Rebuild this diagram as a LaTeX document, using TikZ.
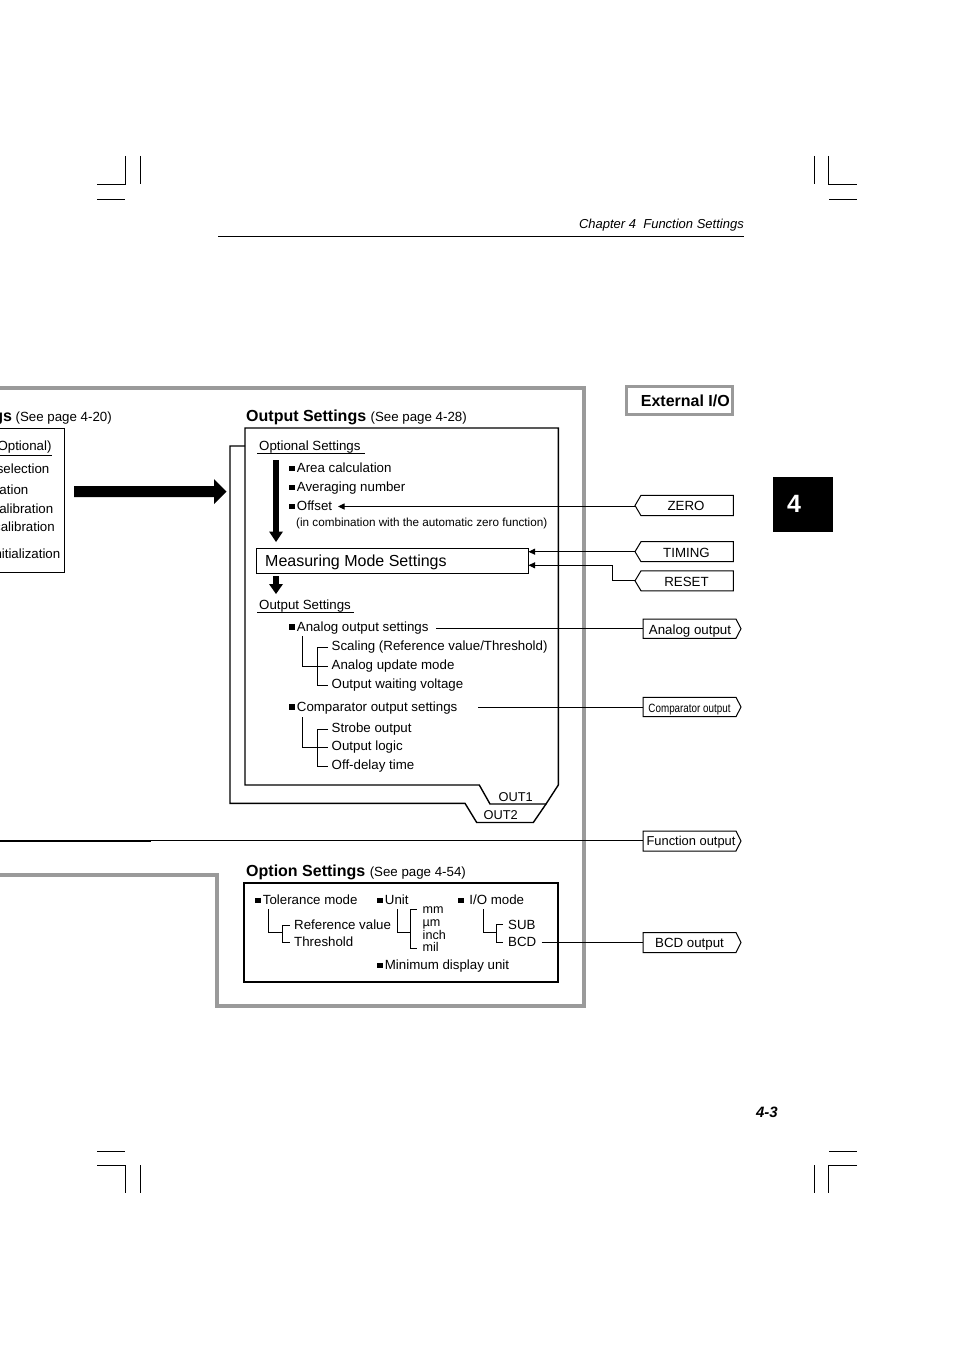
\documentclass[tikz,border=0pt]{standalone}
\usepackage{fontspec}
\usepackage{graphicx}
\setmainfont{Liberation Sans}
\usetikzlibrary{arrows.meta}
\definecolor{framegray}{HTML}{9A9A9A}
\newcommand\fsN{\normalfont\fontsize{13.3}{15}\selectfont}
\newcommand\fsS{\normalfont\fontsize{11.7}{13}\selectfont}
\newcommand\fsU{\normalfont\fontsize{12.6}{14}\selectfont}
\newcommand\fsB{\normalfont\fontsize{16}{18}\selectfont\bfseries}
\newcommand\sqb{\rule[1.2pt]{5.5pt}{5.5pt}\hspace{2.2pt}}
\begin{document}
\begin{tikzpicture}[x=1pt,y=-1pt,
  txt/.style={inner sep=0pt,anchor=base west,font=\fsN},
  txte/.style={inner sep=0pt,anchor=base east,font=\fsN},
  txtc/.style={inner sep=0pt,anchor=base,font=\fsN},
  box/.style={draw,line width=1.5pt,line join=miter},
  thinl/.style={line width=0.9pt},
  tree/.style={line width=0.9pt},
  tagl/.style={draw,line width=1pt,line join=miter},
  arr/.style={line width=0.9pt,-{Triangle[length=6.5pt,width=6pt]}},
  gframe/.style={draw=framegray,line width=3.5pt,line join=miter},
  crop/.style={line width=1pt}]
\useasboundingbox (0,0) rectangle (954,1351);
\clip (0,0) rectangle (954,1351);

% crop marks
\draw[crop] (125.5,156) -- (125.5,184.5) -- (97,184.5);
\draw[crop] (140.3,156) -- (140.3,184.5);
\draw[crop] (97,199.3) -- (124.7,199.3);
\draw[crop] (814.3,156) -- (814.3,184.5);
\draw[crop] (828.7,156) -- (828.7,184.5) -- (856.7,184.5);
\draw[crop] (829,199.3) -- (857,199.3);
\draw[crop] (97,1151.3) -- (124.7,1151.3);
\draw[crop] (97,1165) -- (125.7,1165) -- (125.7,1193);
\draw[crop] (140.3,1165) -- (140.3,1193);
\draw[crop] (829,1151.3) -- (857,1151.3);
\draw[crop] (857,1165) -- (828.7,1165) -- (828.7,1193);
\draw[crop] (814.3,1165) -- (814.3,1193);

% header
\node[txte,font=\normalfont\fontsize{13}{15}\selectfont\itshape] (hdr) at (744,228) {Chapter 4\ \ Function Settings};
\draw[line width=1pt] (218,236.5) -- (744,236.5);

% page number and tab
\node[txte,font=\normalfont\fontsize{15}{17}\selectfont\bfseries\itshape] (pnum) at (778,1117.5) {4-3};
\fill (772.7,476.7) rectangle (832.7,531.7);
\node[inner sep=0pt,text=white,font=\normalfont\fontsize{25}{28}\selectfont\bfseries] (tab) at (794,504) {4};

% gray frame
\draw[gframe] (-5,388) -- (584,388) -- (584,1006) -- (217,1006) -- (217,875) -- (-5,875);

% External I/O
\draw[draw=framegray,line width=3pt] (626.5,386.5) rectangle (732.8,414.2);
\node[txte,font=\fsB] (extio) at (730,406.5) {External I/O};

% left partial box
\node[txte] (lt) at (112,421) {{\fsB gs} (See page 4-20)};
\draw[box] (-5,428.3) -- (64.3,428.3) -- (64.3,572.7) -- (-5,572.7);
\node[txte] (l1) at (51.7,450.5) {Optional)};
\draw[thinl] (-5,455) -- (51.7,455);
\node[txte] (l2) at (49.5,473.2) {selection};
\node[txte] (l3) at (28.5,494) {ation};
\node[txte] (l4) at (53.5,513) {alibration};
\node[txte] (l5) at (55,531) {calibration};
\node[txte] (l6) at (60.5,558) {nitialization};

% big arrow
\fill (74,486) -- (214,486) -- (214,479) -- (226.5,491.5) -- (214,504) -- (214,497) -- (74,497) -- cycle;

% Output settings frames
\node[txt,font=\fsB] (ostitle) at (246,421) {Output Settings {\fsN(See page 4-28)}};
\draw[box,line width=1.4pt] (245,446) -- (230,446) -- (230,803.3) -- (465,803.3) -- (476.7,822.5) -- (533.3,822.5) -- (546,804);
\draw[box,line width=1.4pt] (245,428) -- (558.3,428) -- (558.3,785) -- (546,804) -- (490,804) -- (479.3,785) -- (245,785) -- cycle;
\node[txt,font=\normalfont\fontsize{12.8}{14}\selectfont] (out1) at (498.5,801.3) {OUT1};
\node[txt,font=\normalfont\fontsize{12.8}{14}\selectfont] (out2) at (483.5,819) {OUT2};

\node[txt] (opt) at (259,450.5) {Optional Settings};
\draw[thinl] (257,453.7) -- (364.7,453.7);
\fill (273,460) rectangle (279,532);
\fill (269,531.5) -- (283,531.5) -- (276,542) -- cycle;
\node[txt] (area) at (289,472.5) {\sqb Area calculation};
\node[txt] (avg) at (289,491.5) {\sqb Averaging number};
\node[txt] (offset) at (289,510.3) {\sqb Offset};
\node[txt,font=\fsS] (incomb) at (296,526) {(in combination with the automatic zero function)};

\node[draw,line width=1.1pt,minimum width=272.5pt,minimum height=25pt,anchor=north west,inner sep=0pt] (mms) at (255.8,547.5) {};
\node[txt,font=\normalfont\fontsize{16}{18}\selectfont] (mmst) at (265,566.3) {Measuring Mode Settings};

\fill (273,576) rectangle (279,585);
\fill (269,584) -- (283,584) -- (276,594) -- cycle;

\node[txt] (outs) at (259,609.2) {Output Settings};
\draw[thinl] (257,612.7) -- (354,612.7);

\node[txt] (aos) at (289,631) {\sqb Analog output settings};
\draw[tree] (302.3,636) -- (302.3,666.5) -- (328,666.5);
\draw[tree] (328,647.5) -- (317.3,647.5) -- (317.3,685) -- (328,685);
\node[txt] (sc) at (331.5,650.5) {Scaling (Reference value/Threshold)};
\node[txt] (aum) at (331.5,669.5) {Analog update mode};
\node[txt] (owv) at (331.5,688.2) {Output waiting voltage};

\node[txt] (cos) at (289,711) {\sqb Comparator output settings};
\draw[tree] (302.3,717) -- (302.3,747.5) -- (328,747.5);
\draw[tree] (328,729) -- (317.3,729) -- (317.3,766) -- (328,766);
\node[txt] (so) at (331.5,732) {Strobe output};
\node[txt] (ol) at (331.5,750.5) {Output logic};
\node[txt] (odt) at (331.5,769) {Off-delay time};

% Option settings
\node[txt,font=\fsB] (optitle) at (246,876) {Option Settings {\fsN(See page 4-54)}};
\draw[box] (244,883) rectangle (558,982);
\node[txt] (tol) at (255,904.3) {\sqb Tolerance mode};
\draw[tree] (268.3,909) -- (268.3,932.7) -- (282.3,932.7);
\draw[tree] (290,925) -- (282.3,925) -- (282.3,942.7) -- (290,942.7);
\node[txt] (refv) at (294,929) {Reference value};
\node[txt] (thr) at (294,946.7) {Threshold};

\node[txt] (unit) at (377,904.3) {\sqb Unit};
\draw[tree] (397.3,909) -- (397.3,932.7) -- (410,932.7);
\draw[tree] (416.7,909.3) -- (410,909.3) -- (410,948.3) -- (416.7,948.3);
\node[txt,font=\fsU] (mm) at (422.5,913.3) {mm};
\node[txt,font=\fsU] (um) at (422.5,926) {µm};
\node[txt,font=\fsU] (inch) at (422.5,939) {inch};
\node[txt,font=\fsU] (mil) at (422.5,951.7) {mil};

\node[txt] (iom) at (458,904.3) {\sqb\hspace{3.5pt}I/O mode};
\draw[tree] (483.3,909) -- (483.3,932.7) -- (496,932.7);
\draw[tree] (503,924.3) -- (496,924.3) -- (496,942.7) -- (503,942.7);
\node[txt] (sub) at (508,929) {SUB};
\node[txt] (bcd) at (508,946.7) {BCD};

\node[txt] (mdu) at (377,969.3) {\sqb Minimum display unit};

% left-pointing tags
\draw[tagl] (635,505.5) -- (641,495.3) -- (733.3,495.3) -- (733.3,515.7) -- (641,515.7) -- cycle;
\node[txtc] (zero) at (686,510.3) {ZERO};
\draw[tagl] (635,551.7) -- (641,541.7) -- (733.3,541.7) -- (733.3,561.7) -- (641,561.7) -- cycle;
\node[txtc] (timing) at (686.5,557.5) {TIMING};
\draw[tagl] (635,580.8) -- (641,570.8) -- (733.3,570.8) -- (733.3,590.8) -- (641,590.8) -- cycle;
\node[txtc] (reset) at (686.5,586.7) {RESET};

\coordinate (zeroT) at (635,506.5);
\coordinate (offIn) at (338,506.5);
\draw[arr] (zeroT) -- (offIn);
\coordinate (timT) at (635,551.7);
\coordinate (timIn) at (528.5,551.7);
\draw[arr] (timT) -- (timIn);
\coordinate (resT) at (635,580.8);
\coordinate (resIn) at (528.5,565.3);
\draw[arr] (resT) -- (612.3,580.8) -- (612.3,565.3) -- (resIn);

% right-pointing tags
\draw[tagl] (643,619) -- (736,619) -- (741,628.7) -- (736,638.3) -- (643,638.3) -- cycle;
\node[txtc] (aout) at (690,634) {Analog output};
\draw[tagl] (643,697.3) -- (736,697.3) -- (741,707) -- (736,716.7) -- (643,716.7) -- cycle;
\node[txtc,font=\normalfont\fontsize{12}{14}\selectfont] (cout) at (689.5,712.5) {\scalebox{0.82}[1]{Comparator output}};
\draw[tagl] (643,831) -- (736,831) -- (741,841) -- (736,851) -- (643,851) -- cycle;
\node[txtc,font=\normalfont\fontsize{12.9}{14}\selectfont] (fout) at (691,845.7) {Function output};
\draw[tagl] (643,932.5) -- (736,932.5) -- (741,942.5) -- (736,952.5) -- (643,952.5) -- cycle;
\node[txtc] (bout) at (689.5,947) {BCD output};

% connectors to right tags
\coordinate (aosE) at (436,628.5);
\coordinate (aoutW) at (643,628.5);
\draw[thinl] (aosE) -- (aoutW);
\coordinate (cosE) at (478,707);
\coordinate (coutW) at (643,707);
\draw[thinl] (cosE) -- (coutW);
\coordinate (fL) at (-5,841);
\coordinate (fM) at (151,841);
\coordinate (foutW) at (643,840.6);
\draw[line width=2.2pt] (fL) -- (fM);
\draw[thinl] (151,840.6) -- (foutW);
\coordinate (bcdE) at (541.7,942.7);
\coordinate (boutW) at (643,942.7);
\draw[thinl] (bcdE) -- (boutW);
\end{tikzpicture}
\end{document}
